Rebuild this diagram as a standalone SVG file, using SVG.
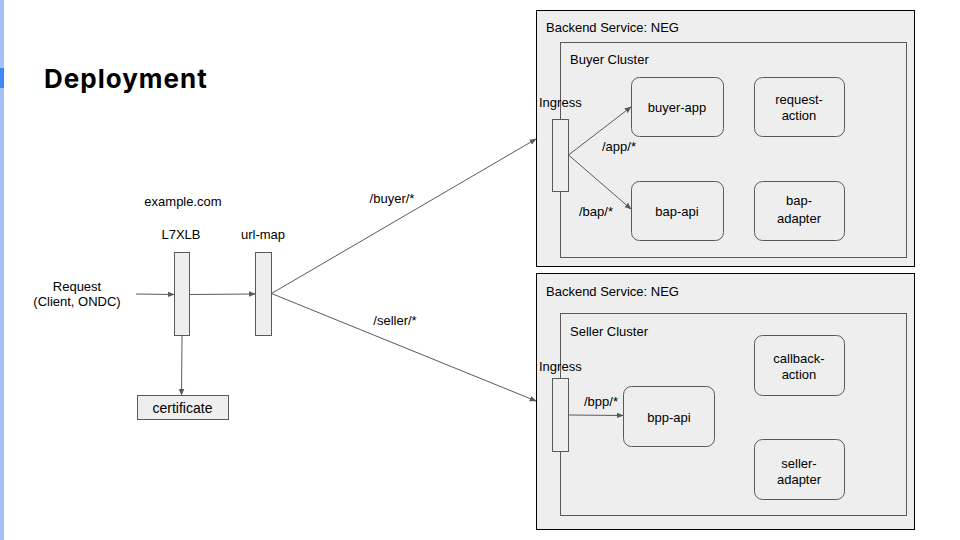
<svg xmlns="http://www.w3.org/2000/svg" width="960" height="540" viewBox="0 0 960 540">
  <style>
    text { font-family: "Liberation Sans", Arial, sans-serif; font-size: 13px; fill: #000; }
    .c { text-anchor: middle; }
    .title { font-family: "Inter", "Noto Sans", sans-serif; font-weight: 700; font-size: 26px; letter-spacing: 1px; }
    .outer { fill: #eeeeee; stroke: #000; stroke-width: 1; }
    .cluster { fill: #eeeeee; stroke: #595959; stroke-width: 1; }
    .bar { fill: #eeeeee; stroke: #595959; stroke-width: 1; }
    .svc { fill: #eeeeee; stroke: #595959; stroke-width: 1; }
    .edge { stroke: #595959; stroke-width: 1; fill: none; marker-end: url(#arrow); }
  </style>
  <defs>
    <marker id="arrow" viewBox="0 0 10 10" refX="9" refY="5" markerWidth="7" markerHeight="7" markerUnits="userSpaceOnUse" orient="auto">
      <path d="M0,1 L10,5 L0,9 z" fill="#595959"/>
    </marker>
  </defs>

  <rect width="960" height="540" fill="#ffffff"/>
  <!-- slide accent bar -->
  <rect x="0" y="0" width="4" height="540" fill="#a4c2f4"/>
  <rect x="0" y="68" width="4" height="20" fill="#4285f4"/>

  <text class="title" x="44" y="88">Deployment</text>

  <!-- backend services and clusters -->
  <g id="buyer-backend">
    <rect class="outer" x="536.5" y="10.5" width="378" height="256"/>
    <text x="546" y="32">Backend Service: NEG</text>
  </g>
  <g id="buyer-cluster">
    <rect class="cluster" x="560.5" y="42.5" width="346" height="215"/>
    <text x="570" y="64">Buyer Cluster</text>
  </g>
  <g id="seller-backend">
    <rect class="outer" x="536.5" y="273.5" width="378" height="256"/>
    <text x="546" y="296">Backend Service: NEG</text>
  </g>
  <g id="seller-cluster">
    <rect class="cluster" x="560.5" y="313.5" width="346" height="202"/>
    <text x="570" y="336">Seller Cluster</text>
  </g>

  <!-- front-end path -->
  <g id="request">
    <text class="c" x="77" y="291">Request</text>
    <text class="c" x="77" y="306">(Client, ONDC)</text>
  </g>
  <g id="l7xlb">
    <text class="c" x="183" y="206">example.com</text>
    <text class="c" x="181" y="239">L7XLB</text>
    <rect class="bar" x="174.5" y="252.5" width="15" height="83"/>
  </g>
  <g id="url-map">
    <text class="c" x="263" y="239">url-map</text>
    <rect class="bar" x="255.5" y="252.5" width="16" height="83"/>
  </g>
  <g id="certificate">
    <rect class="bar" x="137.5" y="395.5" width="91" height="24"/>
    <text class="c" x="182.5" y="413" style="font-size:14px">certificate</text>
  </g>

  <!-- buyer cluster contents -->
  <g id="buyer-ingress">
    <text x="539" y="107">Ingress</text>
    <rect class="bar" x="552.5" y="119.5" width="16" height="72"/>
  </g>
  <g id="buyer-app">
    <rect class="svc" x="631.5" y="77.5" width="92" height="59" rx="8"/>
    <text class="c" x="677" y="112">buyer-app</text>
  </g>
  <g id="request-action">
    <rect class="svc" x="754.5" y="77.5" width="90" height="59" rx="8"/>
    <text class="c" x="799" y="104">request-</text>
    <text class="c" x="799" y="120">action</text>
  </g>
  <g id="bap-api">
    <rect class="svc" x="631.5" y="181.5" width="92" height="59" rx="8"/>
    <text class="c" x="677" y="216">bap-api</text>
  </g>
  <g id="bap-adapter">
    <rect class="svc" x="754.5" y="181.5" width="90" height="59" rx="8"/>
    <text class="c" x="799" y="205">bap-</text>
    <text class="c" x="799" y="223">adapter</text>
  </g>

  <!-- seller cluster contents -->
  <g id="seller-ingress">
    <text x="539" y="371">Ingress</text>
    <rect class="bar" x="552.5" y="378.5" width="16" height="73"/>
  </g>
  <g id="bpp-api">
    <rect class="svc" x="623.5" y="386.5" width="91" height="60" rx="8"/>
    <text class="c" x="669" y="422">bpp-api</text>
  </g>
  <g id="callback-action">
    <rect class="svc" x="754.5" y="335.5" width="90" height="60" rx="8"/>
    <text class="c" x="799" y="363">callback-</text>
    <text class="c" x="799" y="379">action</text>
  </g>
  <g id="seller-adapter">
    <rect class="svc" x="754.5" y="439.5" width="90" height="60" rx="8"/>
    <text class="c" x="799" y="468">seller-</text>
    <text class="c" x="799" y="484">adapter</text>
  </g>

  <!-- connectors -->
  <g id="connectors">
    <line class="edge" x1="136" y1="294" x2="174" y2="294.5"/>
    <line class="edge" x1="189.5" y1="294.5" x2="255" y2="294"/>
    <line class="edge" x1="182" y1="335.5" x2="181.5" y2="395"/>
    <line class="edge" x1="271.5" y1="293.5" x2="536" y2="139"/>
    <line class="edge" x1="271.5" y1="293.5" x2="536" y2="401"/>
    <line class="edge" x1="568.5" y1="155" x2="631" y2="107"/>
    <line class="edge" x1="568.5" y1="155" x2="631" y2="209"/>
    <line class="edge" x1="568.5" y1="415" x2="623" y2="415.5"/>
    <text class="c" x="392" y="203">/buyer/*</text>
    <text class="c" x="395" y="325">/seller/*</text>
    <text class="c" x="619" y="151">/app/*</text>
    <text class="c" x="596" y="216">/bap/*</text>
    <text class="c" x="601" y="406">/bpp/*</text>
  </g>
</svg>
